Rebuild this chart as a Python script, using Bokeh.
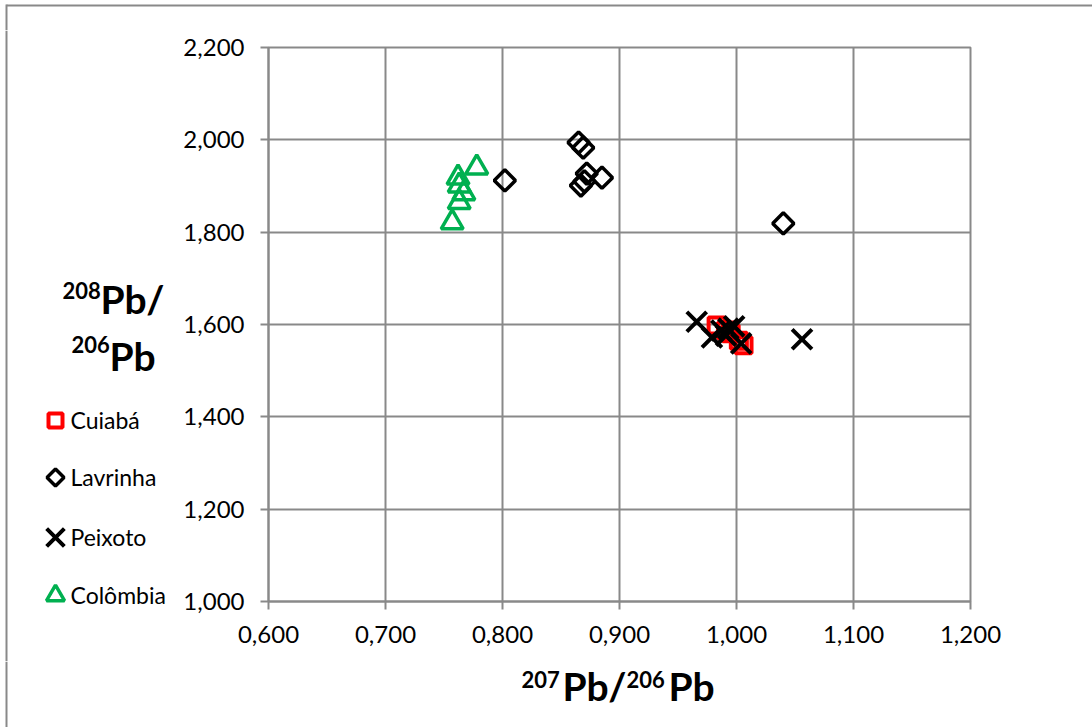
import numpy as np
from bokeh.plotting import figure
from bokeh.layouts import row, column
from bokeh.models import FixedTicker, CustomJSTickFormatter, Range1d
from bokeh.embed import file_html
from bokeh.resources import INLINE
from bokeh.core.properties import value

# ---------------- data ----------------
series_names = ["Cuiabá", "Lavrinha", "Peixoto", "Colômbia"]

cuiaba_x = [0.983, 0.991, 0.995, 1.002, 1.006]
cuiaba_y = [1.598, 1.587, 1.581, 1.565, 1.555]

lavrinha_x = [0.865, 0.869, 0.872, 0.885, 0.867, 0.870, 0.802, 1.040]
lavrinha_y = [1.994, 1.983, 1.927, 1.918, 1.901, 1.910, 1.912, 1.819]

peixoto_x = [0.966, 0.979, 0.987, 0.991, 0.993, 0.998, 1.004, 1.056]
peixoto_y = [1.606, 1.572, 1.587, 1.576, 1.591, 1.596, 1.559, 1.568]

colombia_x = [0.778, 0.762, 0.763, 0.767, 0.763, 0.757]
colombia_y = [1.940, 1.918, 1.901, 1.884, 1.865, 1.821]

x_ticks = [0.6, 0.7, 0.8, 0.9, 1.0, 1.1, 1.2]
y_ticks = [1.0, 1.2, 1.4, 1.6, 1.8, 2.0, 2.2]

# ---------------- styles ----------------
GRID = "#898989"
FONT = "Lato"
styles = {
    "Cuiabá":   dict(marker="square", line_color="#FF0000", line_width=4),
    "Lavrinha": dict(marker="square", angle=np.pi / 4, line_color="black", line_width=3.5),
    "Peixoto":  dict(marker="x", line_color="black", line_width=4),
    "Colômbia": dict(marker="triangle", line_color="#00B050", line_width=3.5),
}
plot_size = {"Cuiabá": 16, "Lavrinha": 15, "Peixoto": 28, "Colômbia": 22}
legend_size = {"Cuiabá": 14, "Lavrinha": 12, "Peixoto": 25, "Colômbia": 18}


def canvas_fig(x0, x1, y0, y1):
    """A plain drawing strip whose coordinates are page pixels."""
    f = figure(width=x1 - x0, height=y1 - y0,
               x_range=Range1d(x0, x1), y_range=Range1d(y1, y0),
               min_border=0, x_axis_location=None, y_axis_location=None,
               output_backend="svg", toolbar_location=None)
    f.xgrid.visible = False
    f.ygrid.visible = False
    f.outline_line_color = None
    f.background_fill_color = "white"
    f.border_fill_color = "white"
    return f


def add_text(f, pieces):
    for txt, lx, by, fs, bold in pieces:
        f.text(x=[lx], y=[by - round(0.38 * fs)], text=[txt],
               text_font=value(FONT), text_font_size=value(f"{fs}px"),
               text_font_style="bold" if bold else "normal",
               text_color="black", text_align="left",
               text_baseline="alphabetic")


TOP_H = 30  # height of the strip above the main plot

# ---------------- main plot ----------------
p = figure(frame_width=702, frame_height=554,
           min_border_left=85, min_border_right=125,
           min_border_top=47 - TOP_H, min_border_bottom=60,
           x_range=Range1d(x_ticks[0], x_ticks[-1]),
           y_range=Range1d(y_ticks[0], y_ticks[-1]),
           output_backend="svg", toolbar_location=None)
p.background_fill_color = "white"
p.border_fill_color = "white"
p.outline_line_color = GRID
p.outline_line_width = 2

fmt = CustomJSTickFormatter(code="return tick.toFixed(3).replace('.', ',');")
for ax, ticks in ((p.xaxis, x_ticks), (p.yaxis, y_ticks)):
    ax.ticker = FixedTicker(ticks=ticks)
    ax.formatter = fmt
    ax.axis_line_color = GRID
    ax.axis_line_width = 2
    ax.major_tick_line_color = GRID
    ax.major_tick_line_width = 2
    ax.major_tick_out = 8
    ax.major_tick_in = 0
    ax.minor_tick_line_color = None
    ax.major_label_text_font = FONT
    ax.major_label_text_font_size = "24px"
    ax.major_label_text_color = "black"
p.yaxis.major_label_standoff = 16
p.xaxis.major_label_standoff = 16

for g in (p.xgrid, p.ygrid):
    g.grid_line_color = GRID
    g.grid_line_width = 2

series_xy = {
    "Cuiabá": (cuiaba_x, cuiaba_y),
    "Lavrinha": (lavrinha_x, lavrinha_y),
    "Peixoto": (peixoto_x, peixoto_y),
    "Colômbia": (colombia_x, colombia_y),
}
for name in series_names:
    xs, ys = series_xy[name]
    p.scatter(xs, ys, size=plot_size[name], fill_color=None, **styles[name])

# ---------------- surrounding strips ----------------
top = canvas_fig(0, 1092, 0, TOP_H)
top.line([6, 1092], [5, 5], line_color=GRID, line_width=2)
top.line([6, 6], [4, TOP_H], line_color=GRID, line_width=2)

left = canvas_fig(0, 180, TOP_H, 661)
left.line([6, 6], [TOP_H, 661], line_color=GRID, line_width=2)

# legend (drawn by hand, left of the y axis)
legend_cy = [420, 477, 537, 595]
for name, cy in zip(series_names, legend_cy):
    left.scatter([55], [cy], size=legend_size[name], fill_color=None, **styles[name])
add_text(left, [(name, 70, cy + 8, 23, False)
                for name, cy in zip(series_names, legend_cy)])

# y-axis title: 208Pb / 206Pb
add_text(left, [
    ("208", 62, 298, 22, True), ("Pb/", 100, 313, 39, True),
    ("206", 71, 352, 22, True), ("Pb", 109, 370, 39, True),
])

bottom = canvas_fig(0, 1092, 661, 727)
bottom.line([6, 6], [661, 727], line_color=GRID, line_width=2)
# x-axis title: 207Pb/206Pb
add_text(bottom, [
    ("207", 521, 687, 22, True), ("Pb/", 562, 700, 39, True),
    ("206", 626, 687, 22, True), ("Pb", 668, 700, 39, True),
])

layout = column(top, row(left, column(p), spacing=0), bottom, spacing=0)

open("out.html", "w").write(file_html(layout, INLINE))
